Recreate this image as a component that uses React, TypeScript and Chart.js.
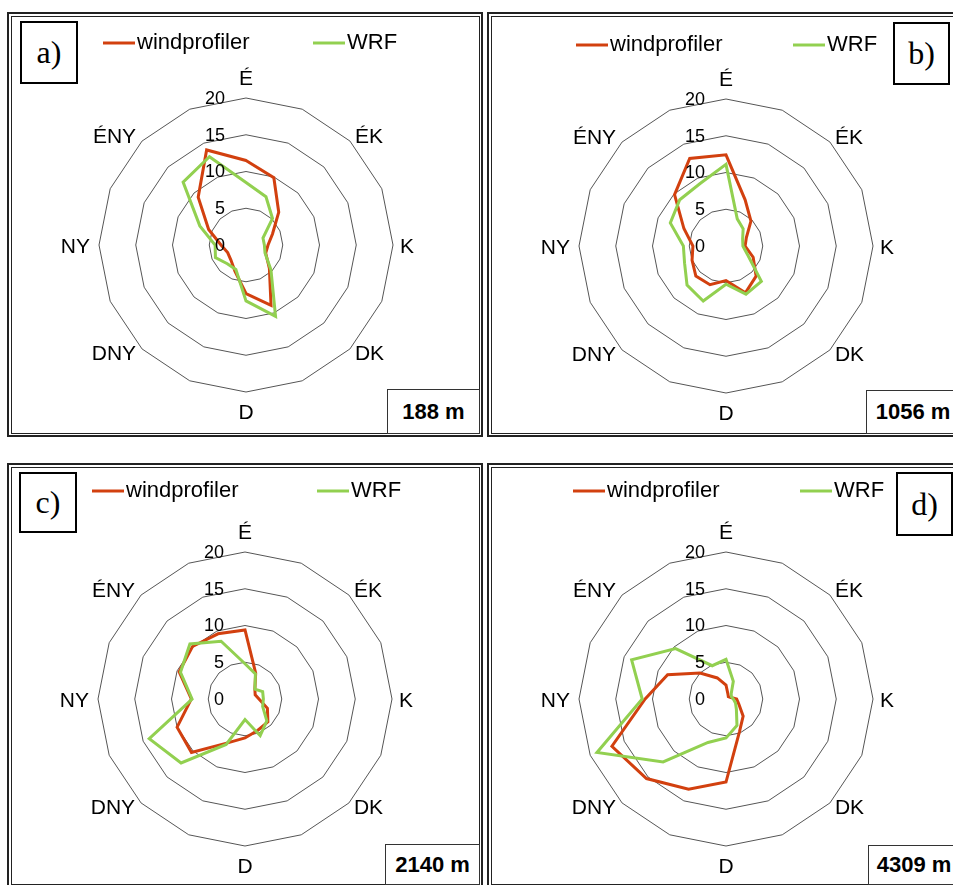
import React, { useEffect, useRef } from 'react';
import { Chart, registerables } from 'chart.js';

Chart.register(...registerables);

// 16 wind directions, clockwise from north; only the main ones are labelled
const DIRECTIONS = ['É', '', 'ÉK', '', 'K', '', 'DK', '', 'D', '', 'DNY', '', 'NY', '', 'ÉNY', ''];
const SPEED_TICKS = [0, 5, 10, 15, 20];
const SERIES_NAMES = ['windprofiler', 'WRF'];
const PANEL_TAGS = ['a)', 'b)', 'c)', 'd)'];
const PANEL_LEVELS = ['188 m', '1056 m', '2140 m', '4309 m'];

// wind speed by direction (É, ÉÉK, ÉK, KÉK, K, ... ÉÉNY)
const profiler188 = [11.5, 9.9, 6.3, 3.9, 3.0, 2.9, 4.5, 8.9, 6.6, 3.9, 2.9, 2.7, 3.4, 5.5, 9.2, 14.0];
const wrf188 = [8.5, 7.1, 5.1, 2.5, 2.5, 2.8, 4.8, 10.5, 7.6, 3.6, 3.6, 4.5, 4.2, 6.8, 12.1, 13.0];

const profiler1056 = [12.4, 6.8, 4.8, 3.0, 2.6, 4.0, 5.8, 6.9, 4.7, 5.7, 5.8, 5.0, 4.5, 6.2, 9.9, 12.9];
const wrf1056 = [11.1, 4.0, 3.3, 2.45, 2.3, 3.2, 6.8, 7.1, 5.2, 8.1, 7.5, 6.1, 5.8, 8.2, 8.9, 9.2];

const profiler2140 = [9.4, 3.8, 1.9, 1.5, 1.9, 3.3, 4.4, 4.6, 5.3, 6.5, 10.3, 10.0, 7.3, 9.7, 10.1, 9.6];
const wrf2140 = [4.8, 3.7, 1.9, 2.6, 2.5, 2.6, 4.2, 5.4, 2.8, 6.7, 12.3, 14.1, 7.2, 9.5, 10.6, 8.5];

const profiler4309 = [1.9, 0.7, 0.45, 0.6, 1.45, 1.9, 3.3, 4.8, 11.3, 13.3, 15.3, 16.8, 11.0, 8.6, 5.0, 3.1];
const wrf4309 = [5.4, 2.6, 1.0, 0.8, 1.0, 1.4, 2.0, 3.9, 5.3, 6.4, 12.1, 19.0, 11.4, 13.9, 9.7, 4.9];

const PROFILER_SERIES = [profiler188, profiler1056, profiler2140, profiler4309];
const WRF_SERIES = [wrf188, wrf1056, wrf2140, wrf4309];

const RED = '#d2400f';
const GREEN = '#92d050';
const FONT = '"Liberation Sans", Arial, sans-serif';

const PANEL_W = 476;
const PANEL_H = 425;
const RADIUS = 147;

// where each panel sits on the page and where its pieces go inside it
const PANEL_LAYOUT = [
  { left: 7, top: 12, cx: 239, cy: 233, legendY: 31, legendX: [96, 306], tagBox: [13, 9, 58, 63], levelBox: [380, 377] },
  { left: 487, top: 12, cx: 239, cy: 234, legendY: 33, legendX: [89, 306], tagBox: [406, 10, 57, 63], levelBox: [379, 378] },
  { left: 7, top: 463, cx: 238, cy: 236, legendY: 28, legendX: [85, 310], tagBox: [12, 9, 58, 61], levelBox: [378, 381] },
  { left: 487, top: 463, cx: 239, cy: 236, legendY: 28, legendX: [86, 313], tagBox: [409, 9, 57, 64], levelBox: [381, 382] },
];

// placement of compass labels around the outer ring, keyed by angle
const LABEL_PLACEMENT: Record<number, [CanvasTextAlign, number, number]> = {
  0: ['center', 0, -13],
  45: ['left', 5, 2],
  90: ['left', 7, 7.5],
  135: ['left', 5, 11],
  180: ['center', 0, 27],
  225: ['right', -6, 11],
  270: ['right', -9, 7.5],
  315: ['right', -6, 2],
};

const panelDecor = {
  id: 'panelDecor',
  afterDatasetsDraw(chart: any, _args: any, opts: any) {
    const r = chart.scales.r;
    const ctx: CanvasRenderingContext2D = chart.ctx;
    const cx = r.xCenter;
    const cy = r.yCenter;
    const R = r.drawingArea;
    ctx.save();
    ctx.fillStyle = '#000';

    // ring values, right-aligned just left of the north direction
    ctx.font = `18px ${FONT}`;
    ctx.textAlign = 'right';
    ctx.textBaseline = 'middle';
    r.ticks.forEach((t: any) => {
      const d = r.getDistanceFromCenterForValue(t.value);
      ctx.fillText(String(t.value), cx - 21, cy - d + 1);
    });

    // compass labels
    ctx.font = `21px ${FONT}`;
    ctx.textBaseline = 'alphabetic';
    const labels: string[] = chart.data.labels;
    labels.forEach((lab, i) => {
      if (!lab) return;
      const p = r.getPointPosition(i, R);
      const deg = Math.round((i * 360) / labels.length);
      const place = LABEL_PLACEMENT[deg] || ['center', 0, 0];
      ctx.textAlign = place[0];
      ctx.fillText(lab, p.x + place[1], p.y + place[2]);
    });

    // legend row
    ctx.font = `22px ${FONT}`;
    ctx.textAlign = 'left';
    ctx.textBaseline = 'middle';
    ctx.lineWidth = 3;
    ctx.lineCap = 'butt';
    chart.data.datasets.forEach((ds: any, i: number) => {
      const x = opts.legendX[i];
      const y = opts.legendY;
      ctx.strokeStyle = ds.borderColor;
      ctx.beginPath();
      ctx.moveTo(x, y);
      ctx.lineTo(x + 32, y);
      ctx.stroke();
      ctx.fillText(ds.label, x + 34, y);
    });
    ctx.restore();
  },
};

function Panel({ index }: { index: number }) {
  const ref = useRef<HTMLCanvasElement | null>(null);
  const lay = PANEL_LAYOUT[index];

  useEffect(() => {
    if (!ref.current) return;
    const chart = new Chart(ref.current, {
      type: 'radar',
      data: {
        labels: DIRECTIONS,
        datasets: [
          {
            label: SERIES_NAMES[0],
            data: PROFILER_SERIES[index],
            borderColor: RED,
            backgroundColor: 'rgba(0,0,0,0)',
            borderWidth: 3,
            pointRadius: 0,
            fill: false,
            order: 1,
          },
          {
            label: SERIES_NAMES[1],
            data: WRF_SERIES[index],
            borderColor: GREEN,
            backgroundColor: 'rgba(0,0,0,0)',
            borderWidth: 3,
            pointRadius: 0,
            fill: false,
            order: 0,
          },
        ],
      },
      options: {
        responsive: false,
        animation: false,
        devicePixelRatio: 1,
        events: [],
        layout: {
          padding: {
            left: lay.cx - RADIUS,
            top: lay.cy - RADIUS,
            right: PANEL_W - lay.cx - RADIUS,
            bottom: PANEL_H - lay.cy - RADIUS,
          },
        },
        plugins: {
          legend: { display: false },
          tooltip: { enabled: false },
          panelDecor: { legendY: lay.legendY, legendX: lay.legendX },
        } as any,
        scales: {
          r: {
            min: SPEED_TICKS[0],
            max: SPEED_TICKS[SPEED_TICKS.length - 1],
            ticks: { display: false, stepSize: SPEED_TICKS[1] - SPEED_TICKS[0] },
            grid: { color: '#555', lineWidth: 1 },
            angleLines: { display: false },
            pointLabels: { display: false },
          },
        },
      },
      plugins: [panelDecor],
    });
    return () => chart.destroy();
  }, [index]);

  const [tx, ty, tw, th] = lay.tagBox;
  const [lx, ly] = lay.levelBox;
  return (
    <div style={{ position: 'absolute', left: lay.left, top: lay.top, width: PANEL_W, height: PANEL_H }}>
      <canvas ref={ref} width={PANEL_W} height={PANEL_H} style={{ position: 'absolute', left: 0, top: 0 }} />
      <div style={{ position: 'absolute', left: 0, top: 0, width: PANEL_W, height: PANEL_H, border: '2px solid #222', boxSizing: 'border-box' }} />
      <div style={{ position: 'absolute', left: 4, top: 4, width: PANEL_W - 7, height: PANEL_H - 7, border: '1px solid #222', boxSizing: 'border-box' }} />
      <div
        style={{
          position: 'absolute', left: tx, top: ty, width: tw, height: th, border: '2px solid #000',
          boxSizing: 'border-box', background: '#fff', display: 'flex', alignItems: 'center', justifyContent: 'center',
          font: '32px "Liberation Serif", "Times New Roman", serif', color: '#000',
        }}
      >
        {PANEL_TAGS[index]}
      </div>
      <div
        style={{
          position: 'absolute', left: lx, top: ly, width: 472 - lx + 1, height: 421 - ly + 1, border: '1px solid #333',
          boxSizing: 'border-box', background: '#fff', display: 'flex', alignItems: 'center', justifyContent: 'center',
          font: `bold 22px ${FONT}`, color: '#000', whiteSpace: 'nowrap',
        }}
      >
        {PANEL_LEVELS[index]}
      </div>
    </div>
  );
}

export default function App() {
  return (
    <div style={{ position: 'absolute', left: 0, top: 0, width: 953, height: 885, overflow: 'hidden', background: '#fff' }}>
      {PANEL_LAYOUT.map((_, i) => (
        <Panel key={i} index={i} />
      ))}
    </div>
  );
}
